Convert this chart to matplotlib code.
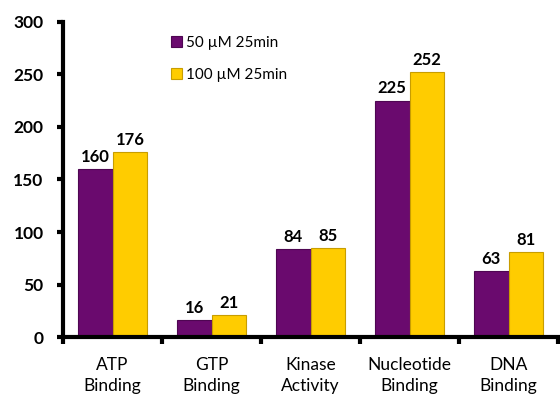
import numpy as np
import matplotlib.pyplot as plt

categories = ['ATP\nBinding', 'GTP\nBinding', 'Kinase\nActivity', 'Nucleotide\nBinding', 'DNA\nBinding']
vals_50 = [160, 16, 84, 225, 63]
vals_100 = [176, 21, 85, 252, 81]
series_names = ['50 \u00b5M 25min', '100 \u00b5M 25min']

plt.rcParams['font.family'] = ['Lato', 'DejaVu Sans']

fig = plt.figure(figsize=(5.6, 3.98), dpi=100)
ax = fig.add_axes([0.1125, 0.153, 0.884, 0.792])

x = np.arange(len(categories))
w = 0.35
b1 = ax.bar(x - w / 2, vals_50, w, color='#6a0a6e', edgecolor='#4e0652', linewidth=0.8, label=series_names[0])
b2 = ax.bar(x + w / 2, vals_100, w, color='#ffcc00', edgecolor='#c89d00', linewidth=0.8, label=series_names[1])

for bars in (b1, b2):
    for r in bars:
        ax.text(r.get_x() + r.get_width() / 2, r.get_height() + 4, str(int(r.get_height())),
                ha='center', va='bottom', fontsize=12, fontweight='bold')

ax.set_xlim(-0.5, len(categories) - 0.5)
ax.set_ylim(0, 300)
ax.set_yticks(range(0, 301, 50))
ax.set_xticks(x)
ax.set_xticklabels(categories, fontsize=12.5, linespacing=1.45)
ax.set_xticks(np.arange(-0.5, len(categories)), minor=True)
ax.tick_params(axis='x', which='major', length=0, pad=14)
ax.tick_params(axis='x', which='minor', length=5, width=3, direction='out')
ax.tick_params(axis='y', length=4, width=3, direction='out', pad=10)
for lab in ax.get_yticklabels():
    lab.set_fontweight('bold')
    lab.set_fontsize(12.5)

for s in ('top', 'right'):
    ax.spines[s].set_visible(False)
for s in ('left', 'bottom'):
    ax.spines[s].set_linewidth(3)

ax.legend(loc='upper left', bbox_to_anchor=(0.19, 1.0), frameon=False, fontsize=11,
          handlelength=0.7, handleheight=0.7, labelspacing=1.2, handletextpad=0.3)

fig.savefig('out.png', dpi=100)
